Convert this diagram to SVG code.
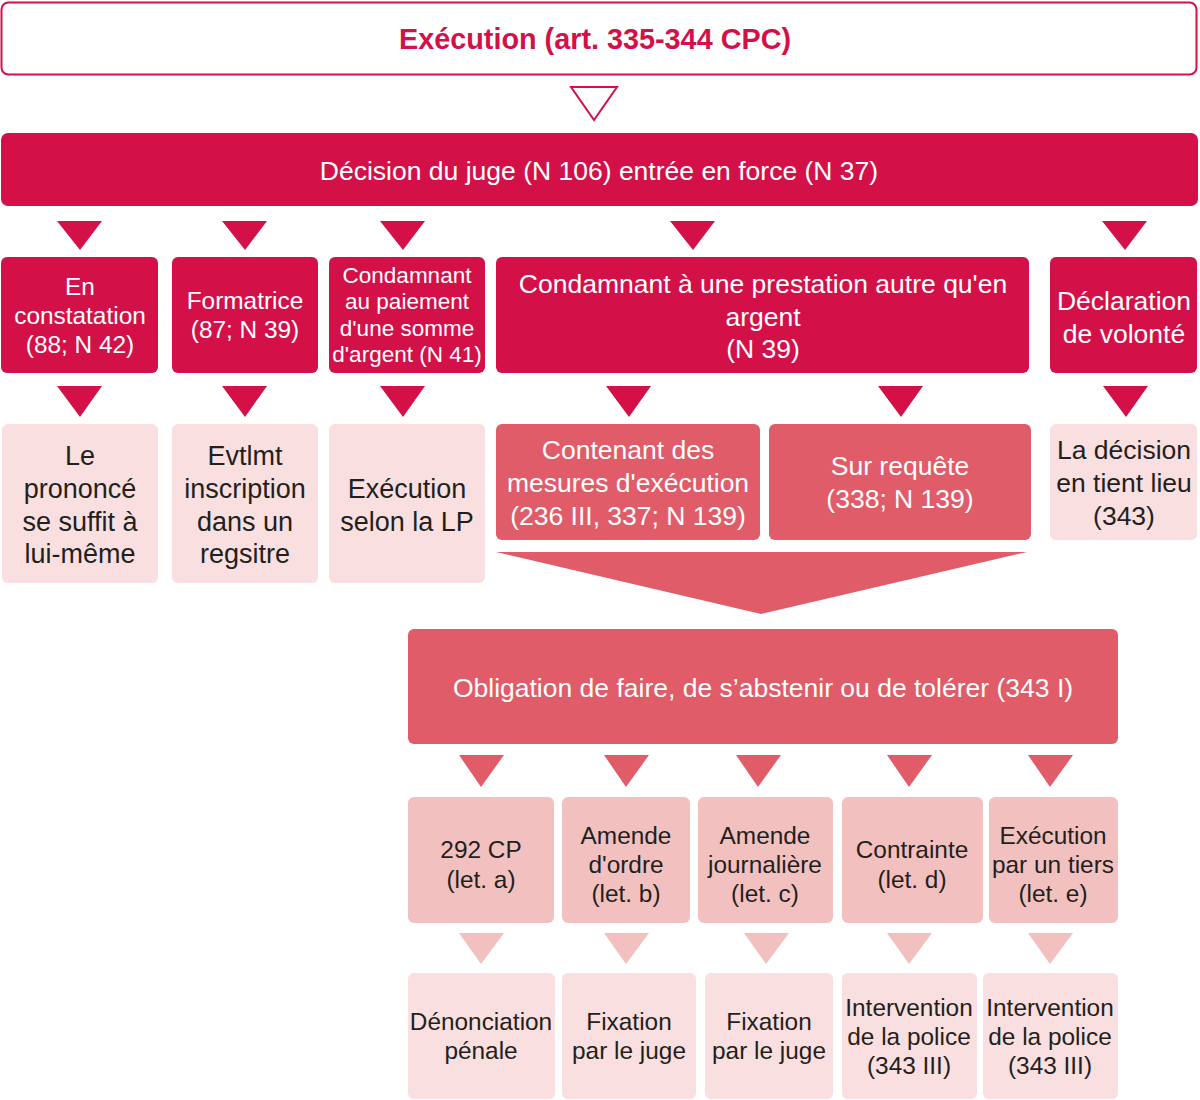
<svg xmlns="http://www.w3.org/2000/svg" width="1200" height="1100" viewBox="0 0 1200 1100">
<style>
text{font-family:"Liberation Sans",Arial,sans-serif;text-anchor:middle}
.dark{fill:#D31148}
.mid{fill:#E05C68}
.light{fill:#F2C1BF}
.pale{fill:#F9DFDF}
.w{fill:#FFFFFF}
.k{fill:#231F20}
.t24{font-size:26.5px}
.t22{font-size:24.4px}
.t20{font-size:22.5px}
.t25{font-size:27px}
</style>
<rect width="1200" height="1100" fill="#FFFFFF"/>
<g id="connectors">
<polygon points="571,87 617,87 594,120" fill="#FFFFFF" stroke="#D31148" stroke-width="2"/>
<g class="dark">
<polygon points="57,221 102,221 80,250"/>
<polygon points="222,221 267,221 245,250"/>
<polygon points="380,221 425,221 403,250"/>
<polygon points="670,221 715,221 693,250"/>
<polygon points="1102,221 1147,221 1125,250"/>
<polygon points="57,386 102,386 80,417"/>
<polygon points="222,386 267,386 245,417"/>
<polygon points="380,386 425,386 403,417"/>
<polygon points="606,386 651,386 629,417"/>
<polygon points="878,386 923,386 901,417"/>
<polygon points="1103,386 1148,386 1126,417"/>
</g>
<polygon class="mid" points="496,552 1027,552 761,614"/>
<g class="mid">
<polygon points="459,755 504,755 481,787"/>
<polygon points="604,755 649,755 626,787"/>
<polygon points="736,755 781,755 758,787"/>
<polygon points="887,755 932,755 909,787"/>
<polygon points="1028,755 1073,755 1050,787"/>
</g>
<g class="light">
<polygon points="459,933 504,933 481,964"/>
<polygon points="604,933 649,933 626,964"/>
<polygon points="744,933 789,933 766,964"/>
<polygon points="887,933 932,933 909,964"/>
<polygon points="1028,933 1073,933 1050,964"/>
</g>
</g>

<g id="title">
<rect x="1.5" y="2.5" width="1195" height="72" rx="7" fill="#FFFFFF" stroke="#D31148" stroke-width="2"/>
<text x="595" y="49" font-size="28.8" font-weight="bold" fill="#D31148">Exécution (art. 335-344 CPC)</text>
</g>
<g id="decision">
<rect class="dark" x="1" y="133" width="1197" height="73" rx="7"/>
<text class="w t24" x="599" y="180">Décision du juge (N 106) entrée en force (N 37)</text>
</g>

<g id="constatation">
<rect class="dark" x="1" y="257" width="157" height="116" rx="6"/>
<text class="w t22" x="80"><tspan x="80" y="295">En</tspan><tspan x="80" y="324">constatation</tspan><tspan x="80" y="353">(88; N 42)</tspan></text>
</g>
<g id="formatrice">
<rect class="dark" x="172" y="257" width="146" height="116" rx="6"/>
<text class="w t22" x="245"><tspan x="245" y="309">Formatrice</tspan><tspan x="245" y="338">(87; N 39)</tspan></text>
</g>
<g id="paiement">
<rect class="dark" x="329" y="257" width="156" height="116" rx="6"/>
<text class="w t20" x="407"><tspan x="407" y="283">Condamnant</tspan><tspan x="407" y="309">au paiement</tspan><tspan x="407" y="336">d'une somme</tspan><tspan x="407" y="362">d'argent (N 41)</tspan></text>
</g>
<g id="prestation">
<rect class="dark" x="496" y="257" width="533" height="116" rx="6"/>
<text class="w t24" x="763"><tspan x="763" y="293">Condamnant à une prestation autre qu'en</tspan><tspan x="763" y="326">argent</tspan><tspan x="763" y="358">(N 39)</tspan></text>
</g>
<g id="declaration">
<rect class="dark" x="1050" y="257" width="147" height="116" rx="6"/>
<text class="w t24" x="1124"><tspan x="1124" y="310">Déclaration</tspan><tspan x="1124" y="343">de volonté</tspan></text>
</g>

<g id="prononce">
<rect class="pale" x="2" y="424" width="156" height="159" rx="6"/>
<text class="k t25" x="80"><tspan x="80" y="465">Le</tspan><tspan x="80" y="498">prononcé</tspan><tspan x="80" y="531">se suffit à</tspan><tspan x="80" y="563">lui-même</tspan></text>
</g>
<g id="registre">
<rect class="pale" x="172" y="424" width="146" height="159" rx="6"/>
<text class="k t25" x="245"><tspan x="245" y="465">Evtlmt</tspan><tspan x="245" y="498">inscription</tspan><tspan x="245" y="531">dans un</tspan><tspan x="245" y="563">regsitre</tspan></text>
</g>
<g id="lp">
<rect class="pale" x="329" y="424" width="156" height="159" rx="6"/>
<text class="k t25" x="407"><tspan x="407" y="498">Exécution</tspan><tspan x="407" y="531">selon la LP</tspan></text>
</g>
<g id="mesures">
<rect class="mid" x="496" y="424" width="264" height="116" rx="6"/>
<text class="w t24" x="628"><tspan x="628" y="459">Contenant des</tspan><tspan x="628" y="492">mesures d'exécution</tspan><tspan x="628" y="525">(236 III, 337; N 139)</tspan></text>
</g>
<g id="requete">
<rect class="mid" x="769" y="424" width="262" height="116" rx="6"/>
<text class="w t24" x="900"><tspan x="900" y="475">Sur requête</tspan><tspan x="900" y="508">(338; N 139)</tspan></text>
</g>
<g id="tientlieu">
<rect class="pale" x="1050" y="424" width="147" height="116" rx="6"/>
<text class="k t24" x="1124"><tspan x="1124" y="459">La décision</tspan><tspan x="1124" y="492">en tient lieu</tspan><tspan x="1124" y="525">(343)</tspan></text>
</g>

<g id="obligation">
<rect class="mid" x="408" y="629" width="710" height="115" rx="6"/>
<text class="w t24" x="763" y="697">Obligation de faire, de s’abstenir ou de tolérer (343 I)</text>
</g>

<g id="cp292">
<rect class="light" x="408" y="797" width="146" height="126" rx="6"/>
<text class="k t22" x="481"><tspan x="481" y="858">292 CP</tspan><tspan x="481" y="888">(let. a)</tspan></text>
</g>
<g id="ordre">
<rect class="light" x="562" y="797" width="128" height="126" rx="6"/>
<text class="k t22" x="626"><tspan x="626" y="844">Amende</tspan><tspan x="626" y="873">d'ordre</tspan><tspan x="626" y="902">(let. b)</tspan></text>
</g>
<g id="journaliere">
<rect class="light" x="698" y="797" width="135" height="126" rx="6"/>
<text class="k t22" x="765"><tspan x="765" y="844">Amende</tspan><tspan x="765" y="873">journalière</tspan><tspan x="765" y="902">(let. c)</tspan></text>
</g>
<g id="contrainte">
<rect class="light" x="842" y="797" width="141" height="126" rx="6"/>
<text class="k t22" x="912"><tspan x="912" y="858">Contrainte</tspan><tspan x="912" y="888">(let. d)</tspan></text>
</g>
<g id="tiers">
<rect class="light" x="989" y="797" width="129" height="126" rx="6"/>
<text class="k t22" x="1053"><tspan x="1053" y="844">Exécution</tspan><tspan x="1053" y="873">par un tiers</tspan><tspan x="1053" y="902">(let. e)</tspan></text>
</g>

<g id="denonciation">
<rect class="pale" x="408" y="973" width="147" height="126" rx="6"/>
<text class="k t22" x="481"><tspan x="481" y="1030">Dénonciation</tspan><tspan x="481" y="1059">pénale</tspan></text>
</g>
<g id="fixation1">
<rect class="pale" x="562" y="973" width="134" height="126" rx="6"/>
<text class="k t22" x="629"><tspan x="629" y="1030">Fixation</tspan><tspan x="629" y="1059">par le juge</tspan></text>
</g>
<g id="fixation2">
<rect class="pale" x="705" y="973" width="128" height="126" rx="6"/>
<text class="k t22" x="769"><tspan x="769" y="1030">Fixation</tspan><tspan x="769" y="1059">par le juge</tspan></text>
</g>
<g id="police1">
<rect class="pale" x="842" y="973" width="135" height="126" rx="6"/>
<text class="k t22" x="909"><tspan x="909" y="1016">Intervention</tspan><tspan x="909" y="1045">de la police</tspan><tspan x="909" y="1074">(343 III)</tspan></text>
</g>
<g id="police2">
<rect class="pale" x="983" y="973" width="135" height="126" rx="6"/>
<text class="k t22" x="1050"><tspan x="1050" y="1016">Intervention</tspan><tspan x="1050" y="1045">de la police</tspan><tspan x="1050" y="1074">(343 III)</tspan></text>
</g>
</svg>
